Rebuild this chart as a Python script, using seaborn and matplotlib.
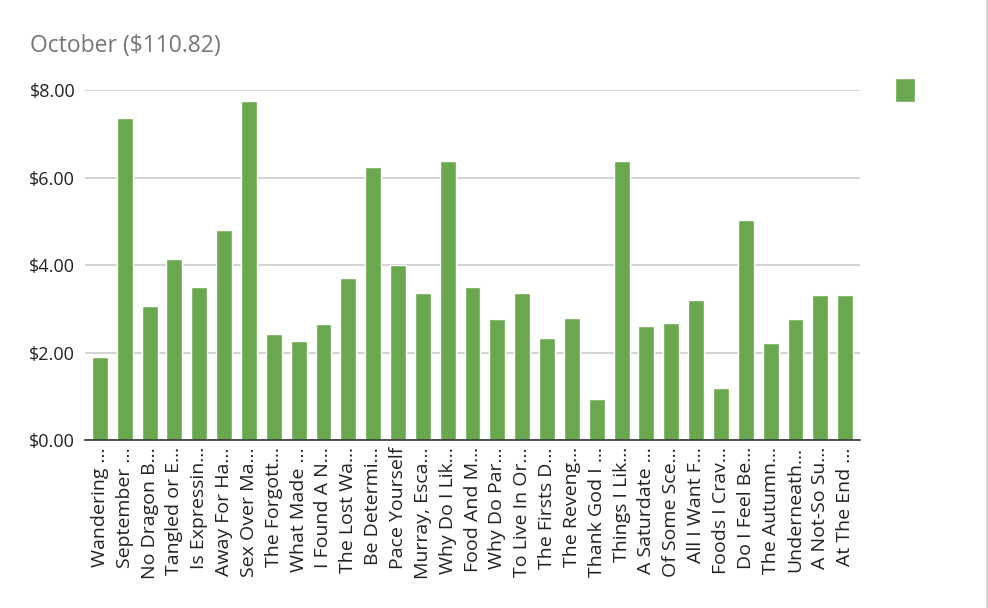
"""October sales per title: single-series bar chart."""

import matplotlib.pyplot as plt
import pandas as pd
import seaborn as sns
from matplotlib.lines import Line2D
from matplotlib.patches import Patch
from matplotlib.ticker import FuncFormatter

titles = [
    "Wandering …", "September …", "No Dragon B…", "Tangled or E…",
    "Is Expressin…", "Away For Ha…", "Sex Over Ma…", "The Forgott…",
    "What Made …", "I Found A N…", "The Lost Wa…", "Be Determi…",
    "Pace Yourself", "Murray, Esca…", "Why Do I Lik…", "Food And M…",
    "Why Do Par…", "To Live In Or…", "The Firsts D…", "The Reveng…",
    "Thank God I …", "Things I Lik…", "A Saturdate …", "Of Some Sce…",
    "All I Want F…", "Foods I Crav…", "Do I Feel Be…", "The Autumn…",
    "Underneath…", "A Not-So Su…", "At The End …",
]
earnings = [
    1.89, 7.36, 3.06, 4.15, 3.51, 4.80, 7.74, 2.42, 2.27, 2.65, 3.70,
    6.23, 4.00, 3.36, 6.38, 3.51, 2.76, 3.36, 2.34, 2.79, 0.94, 6.38,
    2.61, 2.68, 3.21, 1.20, 5.02, 2.23, 2.76, 3.32, 3.32,
]

df = pd.DataFrame({"title": titles, "earnings": earnings})
green = "#6aa84f"

sns.set_style("white")
plt.rcParams["font.family"] = ["Open Sans", "DejaVu Sans"]

fig = plt.figure(figsize=(9.88, 6.08), dpi=100)
ax = fig.add_axes([0.086, 0.276, 0.784, 0.576])

sns.barplot(data=df, x="title", y="earnings", color=green, width=0.64,
            saturation=1, ax=ax)

ax.set_ylim(0, 8)
ax.set_xlim(-0.6, len(titles) - 0.42)
ax.set_yticks([0, 2, 4, 6, 8])
ax.yaxis.set_major_formatter(FuncFormatter(lambda v, _: f"${v:.2f}"))
ax.grid(axis="y", color="#cccccc", linewidth=1.2)
ax.set_axisbelow(True)
for side in ["top", "right", "left"]:
    ax.spines[side].set_visible(False)
ax.spines["bottom"].set_color("#333333")
ax.spines["bottom"].set_linewidth(1.2)
ax.tick_params(axis="both", length=0, colors="#222222")
ax.tick_params(axis="y", pad=7, labelsize=13)
ax.tick_params(axis="x", pad=5, labelsize=14)
plt.setp(ax.get_xticklabels(), rotation=90)
ax.set_xlabel("")
ax.set_ylabel("")

fig.text(0.03, 0.925, "October ($110.82)", fontsize=16.5, color="#757575",
         va="center")

fig.legend(handles=[Patch(facecolor=green)], labels=[""], loc="center",
           bbox_to_anchor=(0.916, 0.852), frameon=False, handlelength=1.03,
           handleheight=1.45, handletextpad=0, fontsize=14)

fig.add_artist(Line2D([0.999, 0.999], [0, 1], color="#d9d9d9",
                      linewidth=1.5, transform=fig.transFigure))

fig.savefig("out.png", dpi=100)
